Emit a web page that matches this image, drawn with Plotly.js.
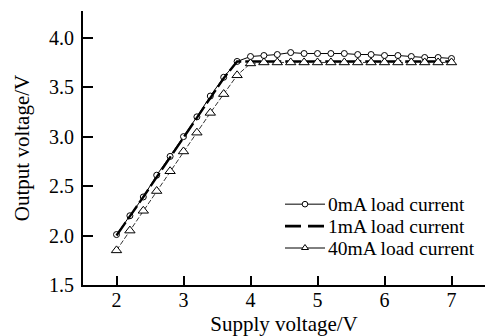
<!DOCTYPE html>
<html>
<head>
<meta charset="utf-8">
<script src="https://cdn.plot.ly/plotly-3.0.1.min.js"></script>
<style>html,body{margin:0;padding:0;background:#fff;}#chart{width:498px;height:336px;}</style>
</head>
<body>
<div id="chart"></div>
<script>
const supplyV = [2.0,2.2,2.4,2.6,2.8,3.0,3.2,3.4,3.6,3.8,4.0,4.2,4.4,4.6,4.8,5.0,5.2,5.4,5.6,5.8,6.0,6.2,6.4,6.6,6.8,7.0];
const out0mA  = [2.01,2.20,2.39,2.61,2.80,3.00,3.20,3.41,3.60,3.76,3.81,3.82,3.83,3.85,3.84,3.84,3.84,3.84,3.83,3.83,3.82,3.82,3.81,3.80,3.80,3.79];
const out1mA  = [2.00,2.19,2.39,2.59,2.79,2.99,3.19,3.39,3.59,3.76,3.76,3.76,3.76,3.76,3.76,3.76,3.76,3.76,3.76,3.76,3.76,3.76,3.76,3.76,3.76,3.76];
const out40mA = [1.85,2.05,2.25,2.45,2.65,2.85,3.04,3.24,3.43,3.62,3.74,3.75,3.75,3.75,3.75,3.75,3.75,3.75,3.75,3.75,3.75,3.75,3.75,3.75,3.75,3.75];
const seriesNames = ['0mA load current','1mA load current','40mA load current'];
const xTicks = [2,3,4,5,6,7];
const yTicks = [1.5,2.0,2.5,3.0,3.5,4.0];

const fam = '"Liberation Serif", "Times New Roman", serif';
const tickFont = {family:fam, size:20, color:'#000'};
const titleFont = {family:fam, size:21, color:'#000'};
const legFont = {family:fam, size:19.5, color:'#000'};

const traces = [
  {x:supplyV, y:out0mA, name:seriesNames[0], mode:'lines+markers',
   line:{color:'#000', width:1},
   marker:{symbol:'circle', size:6, color:'#fff', line:{color:'#000', width:1}}},
  {x:supplyV, y:out1mA, name:seriesNames[1], mode:'lines',
   line:{color:'#000', width:2.4, dash:'16px,4px'}},
  {x:supplyV, y:out40mA, name:seriesNames[2], mode:'lines+markers',
   line:{color:'#333', width:1, dash:'5px,2px'},
   marker:{symbol:'triangle-up', size:9, color:'#fff', line:{color:'#000', width:1}}}
];

// manual legend (compact row spacing like the reference)
const legRowsY = [0.295, 0.215, 0.135];
const legX0 = 0.5025, legX1 = 0.6020, legMid = 0.5522, legText = 0.607;
const shapes = [
  {type:'line', xref:'paper', yref:'paper', x0:legX0, x1:legX1, y0:legRowsY[0], y1:legRowsY[0], line:{color:'#000', width:1}},
  {type:'circle', xref:'paper', yref:'paper', xsizemode:'pixel', ysizemode:'pixel', xanchor:legMid, yanchor:legRowsY[0],
   x0:-2.8, x1:2.8, y0:-2.8, y1:2.8, fillcolor:'#fff', line:{color:'#000', width:1}},
  {type:'line', xref:'paper', yref:'paper', x0:legX0, x1:legX1, y0:legRowsY[1], y1:legRowsY[1], line:{color:'#000', width:2.6, dash:'16px,7px'}},
  {type:'line', xref:'paper', yref:'paper', x0:legX0, x1:legX1, y0:legRowsY[2], y1:legRowsY[2], line:{color:'#000', width:1}},
  {type:'path', xref:'paper', yref:'paper', xsizemode:'pixel', ysizemode:'pixel', xanchor:legMid, yanchor:legRowsY[2],
   path:'M-3.5,-1.5 L3.5,-1.5 L0,3.5 Z', fillcolor:'#fff', line:{color:'#000', width:1}}
];
const annotations = seriesNames.map((n,i)=>({
  text:n, xref:'paper', yref:'paper', x:legText, y:legRowsY[i], xanchor:'left', yanchor:'middle',
  showarrow:false, font:legFont, borderpad:0
}));

const layout = {
  width:498, height:336,
  margin:{l:83, r:13, t:11, b:51},
  paper_bgcolor:'#fff', plot_bgcolor:'#fff',
  font:tickFont,
  showlegend:false,
  shapes:shapes,
  annotations:annotations,
  xaxis:{range:[1.5,7.5], tickvals:xTicks, ticktext:xTicks.map(String),
         ticks:'inside', ticklen:9, tickwidth:2, tickcolor:'#000',
         showline:true, linecolor:'#000', linewidth:2, showgrid:false, zeroline:false,
         ticklabelstandoff:-4, tickfont:tickFont,
         title:{text:'Supply voltage/V', font:titleFont, standoff:12}},
  yaxis:{range:[1.5,4.27], tickvals:yTicks, ticktext:yTicks.map(v=>v.toFixed(1)),
         ticks:'inside', ticklen:10, tickwidth:2, tickcolor:'#000',
         showline:true, linecolor:'#000', linewidth:2, showgrid:false, zeroline:false,
         ticklabelstandoff:3, tickfont:tickFont,
         title:{text:'Output voltage/V', font:titleFont, standoff:14}}
};

Plotly.newPlot('chart', traces, layout, {displayModeBar:false, staticPlot:true});
</script>
</body>
</html>
